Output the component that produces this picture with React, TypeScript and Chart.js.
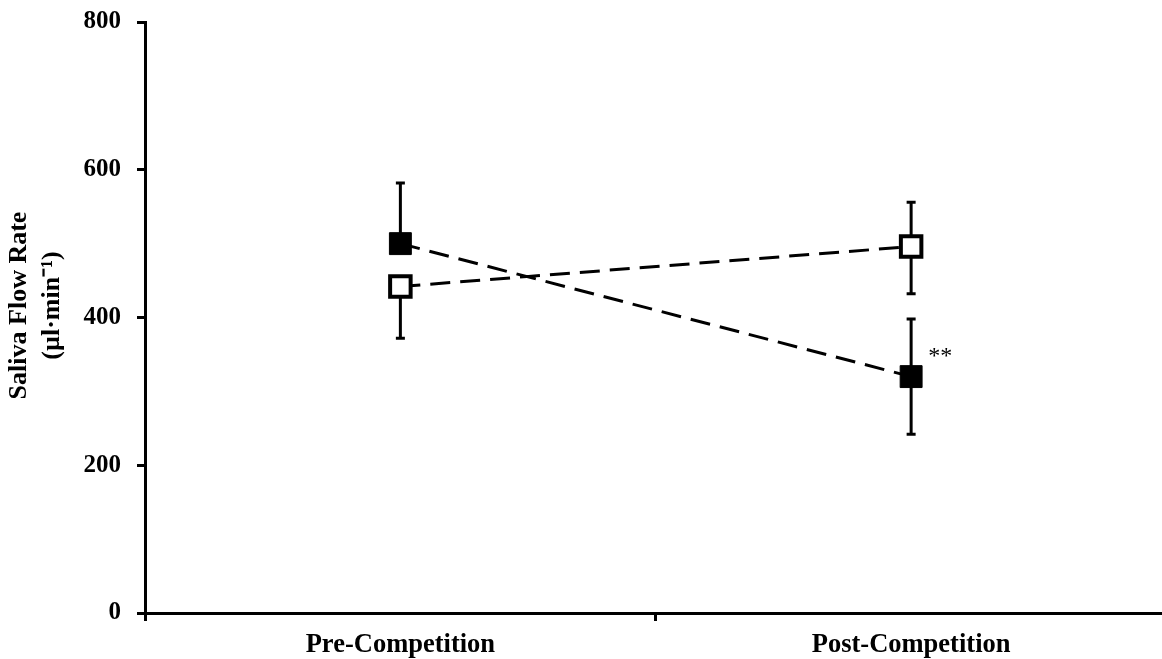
import React, { useEffect, useRef } from "react";
import { Chart, registerables } from "chart.js";

Chart.register(...registerables);

const categories = ["Pre-Competition", "Post-Competition"];
const filledValues = [500, 320];
const filledErrUp = [82, 78];
const filledErrDown = [0, 78];
const openValues = [442, 496];
const openErrUp = [0, 60];
const openErrDown = [70, 64];
const yTicks = [0, 200, 400, 600, 800];
const yTitle = ["Saliva Flow Rate", "(µl·min⁻¹)"];
const annotationText = "**";
const annotationIndex = 1;

const FONT = "'Liberation Serif', 'Times New Roman', serif";

const errorBarPlugin = {
  id: "errorBars",
  beforeDatasetsDraw(chart: any) {
    const ctx = chart.ctx;
    const xs = chart.scales.x;
    const ys = chart.scales.y;
    const sets = [
      { vals: filledValues, up: filledErrUp, down: filledErrDown },
      { vals: openValues, up: openErrUp, down: openErrDown },
    ];
    ctx.save();
    ctx.strokeStyle = "#000";
    ctx.lineWidth = 3;
    ctx.setLineDash([]);
    const cap = 4.5;
    sets.forEach((s) => {
      s.vals.forEach((v, i) => {
        const x = xs.getPixelForValue(i);
        const yc = ys.getPixelForValue(v);
        if (s.up[i] > 0) {
          const yt = ys.getPixelForValue(v + s.up[i]);
          ctx.beginPath();
          ctx.moveTo(x, yc);
          ctx.lineTo(x, yt);
          ctx.moveTo(x - cap, yt);
          ctx.lineTo(x + cap, yt);
          ctx.stroke();
        }
        if (s.down[i] > 0) {
          const yb = ys.getPixelForValue(v - s.down[i]);
          ctx.beginPath();
          ctx.moveTo(x, yc);
          ctx.lineTo(x, yb);
          ctx.moveTo(x - cap, yb);
          ctx.lineTo(x + cap, yb);
          ctx.stroke();
        }
      });
    });
    ctx.restore();
  },
  afterDatasetsDraw(chart: any) {
    const ctx = chart.ctx;
    const xs = chart.scales.x;
    const ys = chart.scales.y;
    const x = xs.getPixelForValue(annotationIndex);
    const y = ys.getPixelForValue(filledValues[annotationIndex]);
    ctx.save();
    ctx.fillStyle = "#000";
    ctx.font = `24px ${FONT}`;
    ctx.textAlign = "left";
    ctx.textBaseline = "alphabetic";
    ctx.fillText(annotationText, x + 17, y - 14);

    const area = chart.chartArea;
    const cy = (area.top + area.bottom) / 2 - 12;
    ctx.font = `bold 26px ${FONT}`;
    ctx.textAlign = "center";
    ctx.textBaseline = "middle";
    ctx.translate(0, cy);
    ctx.rotate(-Math.PI / 2);
    ctx.fillText(yTitle[0], 0, 19);
    ctx.fillText(yTitle[1], 0, 52);
    ctx.restore();
  },
};

export default function App() {
  const ref = useRef<HTMLCanvasElement | null>(null);

  useEffect(() => {
    document.body.style.margin = "0";
    document.body.style.overflow = "hidden";
    const canvas = ref.current;
    if (!canvas) return;
    const chart = new Chart(canvas, {
      type: "line",
      data: {
        labels: categories,
        datasets: [
          {
            label: "Filled",
            data: filledValues,
            borderColor: "#000",
            borderWidth: 3,
            borderDash: [20, 10],
            backgroundColor: "#000",
            pointStyle: "rect",
            pointRadius: 15.5,
            pointBorderWidth: 1,
            pointBackgroundColor: "#000",
            pointBorderColor: "#000",
            fill: false,
            tension: 0,
          },
          {
            label: "Open",
            data: openValues,
            borderColor: "#000",
            borderWidth: 3,
            borderDash: [20, 10],
            backgroundColor: "#fff",
            pointStyle: "rect",
            pointRadius: 14.5,
            pointBorderWidth: 4,
            pointBackgroundColor: "#fff",
            pointBorderColor: "#000",
            fill: false,
            tension: 0,
          },
        ],
      },
      options: {
        animation: false,
        responsive: false,
        maintainAspectRatio: false,
        layout: { padding: { top: 0, left: 0, right: 0, bottom: 0 } },
        plugins: {
          legend: { display: false },
          tooltip: { enabled: false },
        },
        scales: {
          x: {
            type: "category",
            offset: true,
            grid: {
              offset: true,
              drawOnChartArea: false,
              drawTicks: true,
              tickLength: 8,
              tickWidth: 3,
              tickColor: "#000",
            },
            border: { display: true, color: "#000", width: 3 },
            ticks: {
              color: "#000",
              padding: 8,
              font: { family: FONT, size: 26.5, weight: "bold" },
              maxRotation: 0,
            },
            afterFit(scale: any) {
              scale.height = 46;
            },
          },
          y: {
            min: 0,
            max: 800,
            afterBuildTicks(scale: any) {
              scale.ticks = yTicks.map((v) => ({ value: v }));
            },
            grid: {
              drawOnChartArea: false,
              drawTicks: true,
              tickLength: 8,
              tickWidth: 3,
              tickColor: "#000",
            },
            border: { display: true, color: "#000", width: 3 },
            ticks: {
              color: "#000",
              padding: 16,
              font: { family: FONT, size: 25, weight: "bold", lineHeight: 0.48 },
            },
            title: { display: false },
            afterFit(scale: any) {
              scale.width = 145;
            },
          },
        },
      },
      plugins: [errorBarPlugin],
    });
    return () => chart.destroy();
  }, []);

  return (
    <div style={{ position: "fixed", left: 0, top: 0, width: 1162, height: 659, overflow: "hidden", background: "#fff" }}>
      <canvas ref={ref} width={1185} height={659} style={{ display: "block", width: 1185, height: 659 }} />
    </div>
  );
}
